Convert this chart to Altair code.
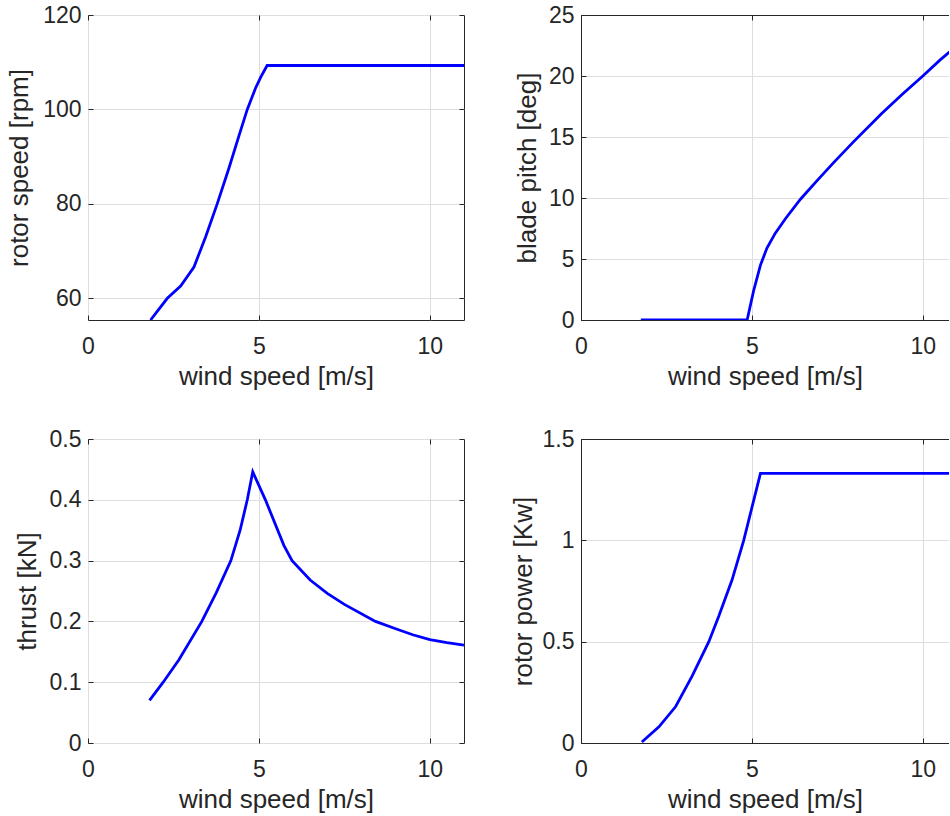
import altair as alt
import pandas as pd

# ---- data ----
rs_wind = [1.83, 2.32, 2.71, 3.10, 3.44, 3.78, 4.12, 4.42, 4.66, 4.90, 5.05, 5.24, 11.0]
rs_rpm = [55.4, 60.0, 62.6, 66.6, 73.0, 80.0, 87.5, 94.5, 100.0, 104.5, 106.8, 109.3, 109.3]

bp_wind = [1.75, 4.86, 5.05, 5.25, 5.44, 5.68, 5.98, 6.42, 6.90, 7.39, 7.97, 8.79, 9.4, 10.0, 10.5, 11.0]
bp_deg = [0.0, 0.0, 2.4, 4.5, 5.9, 7.1, 8.3, 9.9, 11.4, 12.9, 14.6, 16.9, 18.5, 20.0, 21.3, 22.5]

th_wind = [1.80, 2.20, 2.66, 3.33, 3.75, 4.18, 4.45, 4.66, 4.82, 5.19, 5.73, 5.97,
           6.5, 7.0, 7.5, 8.41, 9.0, 9.5, 10.0, 10.5, 11.0]
th_kn = [0.070, 0.100, 0.137, 0.200, 0.247, 0.300, 0.350, 0.400, 0.446, 0.400, 0.325, 0.300,
         0.268, 0.246, 0.228, 0.200, 0.188, 0.178, 0.170, 0.165, 0.161]

pw_wind = [1.78, 2.28, 2.77, 3.25, 3.74, 4.03, 4.42, 4.76, 5.25, 11.0]
pw_kw = [0.005, 0.080, 0.180, 0.330, 0.500, 0.625, 0.805, 1.000, 1.330, 1.330]

x_ticks = [0, 5, 10]

FONT = "Liberation Sans"
TXT = "#262626"
GRID = "#dedede"
BLUE = "#0000ff"

W_LEFT = 376
W_RIGHT = 368  # right column is cut by the page edge
X_MAX_LEFT = 11.0
X_MAX_RIGHT = 11.0 * W_RIGHT / W_LEFT
TICK = 5


def inner_ticks(orient, values):
    # an axis pushed inside the plot so that its outward ticks end on the frame,
    # giving MATLAB-style inward ticks
    return alt.Axis(orient=orient, values=values, offset=-TICK, ticks=True, tickSize=TICK,
                    tickColor=TXT, tickWidth=1, labels=False, title=None, grid=False,
                    domain=False)


def panel(xs, ys, ytitle, ydomain, yticks, height, title_pad, right_col):
    df = pd.DataFrame({"w": xs, "v": ys})
    xmax = X_MAX_RIGHT if right_col else X_MAX_LEFT
    width = W_RIGHT if right_col else W_LEFT
    xscale = alt.Scale(domain=[0, xmax], nice=False, zero=False)
    yscale = alt.Scale(domain=ydomain, nice=False, zero=False)
    line = (
        alt.Chart(df)
        .mark_line(color=BLUE, strokeWidth=2.8, clip=True)
        .encode(
            x=alt.X(
                "w:Q",
                scale=xscale,
                axis=alt.Axis(values=x_ticks, title="wind speed [m/s]", format="d",
                              titlePadding=5, labelPadding=15,
                              domain=right_col, domainColor=TXT),
            ),
            y=alt.Y(
                "v:Q",
                scale=yscale,
                axis=alt.Axis(values=yticks, title=ytitle, labelPadding=7,
                              titlePadding=title_pad, format="~f",
                              domain=right_col, domainColor=TXT),
            ),
        )
    )
    ghost = alt.Chart(df).mark_point(opacity=0, clip=True)

    def gx(axis):
        return ghost.encode(x=alt.X("w:Q", scale=xscale, axis=axis),
                            y=alt.Y("v:Q", scale=yscale, axis=None))

    def gy(axis):
        return ghost.encode(x=alt.X("w:Q", scale=xscale, axis=None),
                            y=alt.Y("v:Q", scale=yscale, axis=axis))

    layers = [
        line,
        gx(inner_ticks("bottom", x_ticks)),
        gx(inner_ticks("top", x_ticks)),
        gy(inner_ticks("left", yticks)),
    ]
    if right_col:
        layers.append(gx(alt.Axis(orient="top", labels=False, title=None, grid=False,
                                  domain=True, domainColor=TXT, ticks=False)))
        view = alt.ViewBackground(stroke=None)
    else:
        layers.append(gy(inner_ticks("right", yticks)))
        view = alt.ViewBackground(stroke=TXT, strokeWidth=1)
    return (
        alt.layer(*layers)
        .resolve_axis(x="independent", y="independent")
        .properties(width=width, height=height, view=view)
    )


tl = panel(rs_wind, rs_rpm, "rotor speed [rpm]", [55.4, 120], [60, 80, 100, 120], 305, 10.5, False)
tr = panel(bp_wind, bp_deg, "blade pitch [deg]", [0, 25], [0, 5, 10, 15, 20, 25], 305, 7.5, True)
bl = panel(th_wind, th_kn, "thrust [kN]", [0, 0.5], [0, 0.1, 0.2, 0.3, 0.4, 0.5], 304, 8.3, False)
br = panel(pw_wind, pw_kw, "rotor power [Kw]", [0, 1.5], [0, 0.5, 1, 1.5], 304, 6, True)

chart = (
    alt.concat(tl, tr, bl, br, columns=2, spacing={"row": 119, "column": 117}, bounds="flush")
    .properties(padding={"left": 5, "top": 3, "right": 0, "bottom": 0}, background="white")
    .configure_axis(
        labelFont=FONT,
        titleFont=FONT,
        labelFontSize=23,
        titleFontSize=26,
        labelColor=TXT,
        titleColor=TXT,
        titleFontWeight="normal",
        domain=False,
        ticks=False,
        tickSize=0,
        grid=True,
        gridColor=GRID,
        gridWidth=1,
        labelFlush=False,
        labelOverlap=False,
    )
)

chart.save("out.html", embed_options={"renderer": "svg", "actions": False})
